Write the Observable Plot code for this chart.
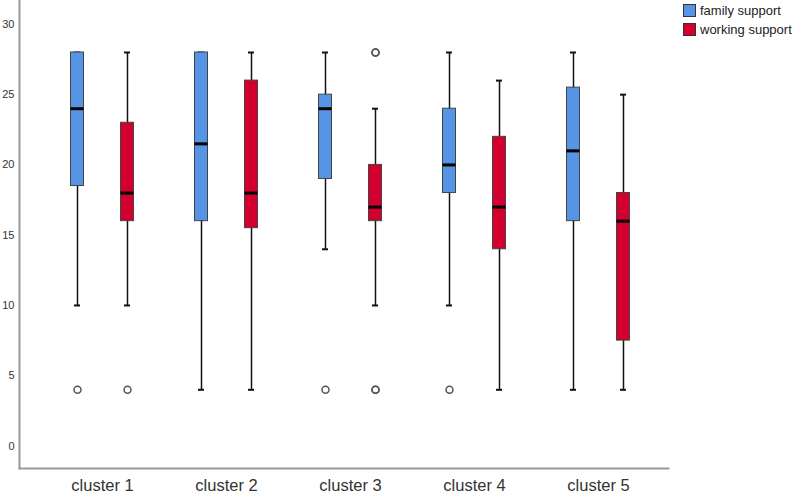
<!DOCTYPE html>
<html>
<head>
<meta charset="utf-8">
<script src="https://cdn.jsdelivr.net/npm/d3@7"></script>
<script src="https://cdn.jsdelivr.net/npm/@observablehq/plot@0.6"></script>
<style>
  html, body { margin: 0; padding: 0; background: #fff; }
  #wrap { position: relative; width: 800px; height: 493px; font-family: "Liberation Sans", Arial, sans-serif; }
  #legend { position: absolute; left: 683px; top: 1px; font-size: 13px; color: #222; }
  #legend .item { display: flex; align-items: center; height: 19px; }
  #legend .sw { width: 13px; height: 13px; border: 1px solid #333; margin-right: 4px; box-sizing: border-box; }
</style>
</head>
<body>
<div id="wrap"><div id="legend"></div></div>
<script>
const clusters = ["cluster 1", "cluster 2", "cluster 3", "cluster 4", "cluster 5"];
const groups = ["family support", "working support"];
const colors = ["#5694E6", "#D3002F"];

const familyMin    = [10, 4, 14, 10, 4];
const familyQ1     = [18.5, 16, 19, 18, 16];
const familyMedian = [24, 21.5, 24, 20, 21];
const familyQ3     = [28, 28, 25, 24, 25.5];
const familyMax    = [28, 28, 28, 28, 28];
const familyOutliers = [[4], [], [4], [4], []];

const workingMin    = [10, 4, 10, 4, 4];
const workingQ1     = [16, 15.5, 16, 14, 7.5];
const workingMedian = [18, 18, 17, 17, 16];
const workingQ3     = [23, 26, 20, 22, 18];
const workingMax    = [28, 28, 24, 26, 25];
const workingOutliers = [[4], [], [4, 4, 28, 28], [], []];

const yTicks = [0, 5, 10, 15, 20, 25, 30];

function stats(mins, q1s, meds, q3s, maxs) {
  return clusters.map((c, i) => ({cluster: c, min: mins[i], q1: q1s[i], median: meds[i], q3: q3s[i], max: maxs[i]}));
}
function outs(arr) {
  return arr.flatMap((vals, i) => vals.map(v => ({cluster: clusters[i], value: v})));
}

const series = [
  {data: stats(familyMin, familyQ1, familyMedian, familyQ3, familyMax), out: outs(familyOutliers), color: colors[0], dx: -25},
  {data: stats(workingMin, workingQ1, workingMedian, workingQ3, workingMax), out: outs(workingOutliers), color: colors[1], dx: 25}
];

const boxInset = 55.5;
const capInset = 59;

const marks = [
  Plot.frame({anchor: "left", stroke: "#999", strokeWidth: 2}),
  Plot.frame({anchor: "bottom", stroke: "#999", strokeWidth: 2})
];
for (const s of series) {
  marks.push(
    Plot.ruleX(s.data, {x: "cluster", y1: "min", y2: "max", dx: s.dx, stroke: "#111", strokeWidth: 1.5}),
    Plot.tickY(s.data, {x: "cluster", y: "min", dx: s.dx, insetLeft: capInset, insetRight: capInset, stroke: "#111", strokeWidth: 2}),
    Plot.tickY(s.data, {x: "cluster", y: "max", dx: s.dx, insetLeft: capInset, insetRight: capInset, stroke: "#111", strokeWidth: 2}),
    Plot.barY(s.data, {x: "cluster", y1: "q1", y2: "q3", dx: s.dx, insetLeft: boxInset, insetRight: boxInset, fill: s.color, stroke: "#444", strokeWidth: 1}),
    Plot.tickY(s.data, {x: "cluster", y: "median", dx: s.dx, insetLeft: boxInset, insetRight: boxInset, stroke: "#000", strokeWidth: 3}),
    Plot.dot(s.out, {x: "cluster", y: "value", dx: s.dx, r: 3.5, fill: "none", stroke: "#555", strokeWidth: 1.5})
  );
}

const chart = Plot.plot({
  width: 800,
  height: 493,
  marginLeft: 19,
  marginRight: 132,
  marginTop: 0,
  marginBottom: 25,
  style: {fontFamily: "'Liberation Sans', Arial, sans-serif", background: "white"},
  x: {domain: clusters, padding: 0, insetLeft: 21, insetRight: 8, label: null},
  y: {domain: [-1.6, 31.7], label: null},
  marks: [
    ...marks,
    Plot.axisX({tickSize: 0, tickPadding: 11, fontSize: 16.5, fill: "#333", label: null}),
    Plot.axisY({ticks: yTicks, tickSize: 0, tickPadding: 5, fontSize: 11, fill: "#333", label: null})
  ]
});
document.getElementById("wrap").prepend(chart);

const legend = document.getElementById("legend");
groups.forEach((g, i) => {
  const item = document.createElement("div");
  item.className = "item";
  const sw = document.createElement("div");
  sw.className = "sw";
  sw.style.background = colors[i];
  const t = document.createElement("span");
  t.textContent = g;
  item.append(sw, t);
  legend.append(item);
});
</script>
</body>
</html>
